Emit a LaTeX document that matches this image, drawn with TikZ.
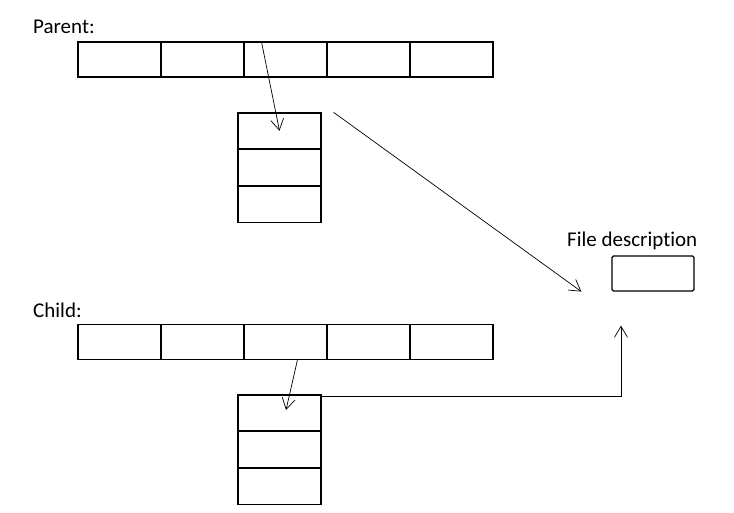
\documentclass[tikz,border=0pt]{standalone}
\usepackage{fontspec}
\setmainfont{Carlito}[Ligatures=NoCommon]
\usetikzlibrary{arrows.meta,positioning}

\begin{document}
\begin{tikzpicture}[x=1pt,y=-1pt,
		cell/.style={draw,line width=1.2pt,minimum width=83pt,minimum height=35pt,inner sep=0pt},
		slot/.style={draw,line width=1.2pt,minimum width=83pt,minimum height=35.7pt,inner sep=0pt},
		ptr/.style={-{Straight Barb[length=11pt,width=13pt,line width=0.7pt]},line width=0.7pt},
		lbl/.style={anchor=base west,inner sep=0pt,font=\fontsize{21}{25}\selectfont}]
				\useasboundingbox (0,0) rectangle (734,512);
				% labels
				\node[lbl] (parent) at (33,33) {Parent:};
				\node[lbl] (child) at (33,317) {Child:};
				\node[lbl] (desc) at (567,246) {File description};
				% the two arrays
				 \foreach \i in {1,...,5}
				    \node[cell] (p\i) at (36.5+83*\i,59.5) {};
				 \foreach \i in {1,...,5}
				    \node[cell] (c\i) at (36.5+83*\i,342) {};
				% the two tables
				 \node[slot] (f1) at (279.5,130.8) {};
				 \node[slot,below=0pt of f1] (f2) {};
				 \node[slot,below=0pt of f2] (f3) {};
				 \node[slot] (g1) at (279.5,412.8) {};
				 \node[slot,below=0pt of g1] (g2) {};
				 \node[slot,below=0pt of g2] (g3) {};
				% file description
				 \node[draw,line width=1.2pt,rounded corners=1.5pt,minimum width=82pt,minimum height=35pt] (file) at (653,273.5) {};
				% pointers
				 \draw[ptr] ([xshift=18pt]p3.north west) -- (f1.center);
				 \draw[ptr] ([xshift=12pt]f1.north east) -- ([xshift=-30pt]file.south west);
				 \draw[ptr] ([xshift=54pt]c3.south west) -- ([xshift=6.5pt,yshift=2.8pt]g1.center);
				 \draw[ptr] ([yshift=-2pt]g1.north east) -| ([xshift=-32pt,yshift=-34pt]file.south);
			\end{tikzpicture}
\end{document}
